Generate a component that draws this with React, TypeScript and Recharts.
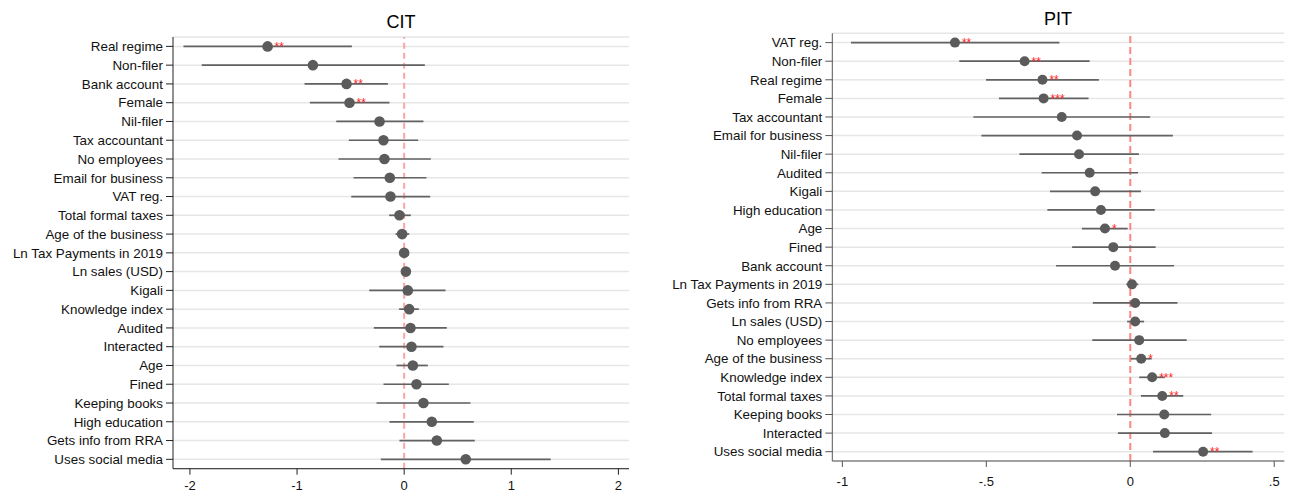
import {
  ScatterChart,
  Scatter,
  XAxis,
  YAxis,
  CartesianGrid,
  ReferenceLine,
  ErrorBar,
} from 'recharts';

const FONT = '"Liberation Sans", Arial, sans-serif';

// CIT coefficients (point estimate, 95% CI bounds, significance stars)
const citLabels = [
  'Real regime', 'Non-filer', 'Bank account', 'Female', 'Nil-filer', 'Tax accountant',
  'No employees', 'Email for business', 'VAT reg.', 'Total formal taxes', 'Age of the business',
  'Ln Tax Payments in 2019', 'Ln sales (USD)', 'Kigali', 'Knowledge index', 'Audited',
  'Interacted', 'Age', 'Fined', 'Keeping books', 'High education', 'Gets info from RRA',
  'Uses social media',
];
const citEst = [-1.275, -0.852, -0.538, -0.51, -0.23, -0.193, -0.184, -0.134, -0.128, -0.044, -0.019, 0.0, 0.016, 0.034, 0.047, 0.059, 0.068, 0.081, 0.115, 0.18, 0.258, 0.305, 0.575];
const citLo = [-2.06, -1.89, -0.93, -0.88, -0.634, -0.516, -0.613, -0.473, -0.494, -0.14, -0.081, -0.012, -0.006, -0.326, -0.047, -0.283, -0.233, -0.072, -0.193, -0.258, -0.137, -0.044, -0.218];
const citHi = [-0.488, 0.193, -0.152, -0.137, 0.18, 0.131, 0.249, 0.208, 0.243, 0.062, 0.047, 0.012, 0.036, 0.386, 0.137, 0.398, 0.367, 0.221, 0.417, 0.619, 0.65, 0.659, 1.368];
const citStars = ['**', '', '**', '**', '', '', '', '', '', '', '', '', '', '', '', '', '', '', '', '', '', '', ''];
const citTicks = [-2, -1, 0, 1, 2];
const citTickLabels = ['-2', '-1', '0', '1', '2'];

// PIT coefficients
const pitLabels = [
  'VAT reg.', 'Non-filer', 'Real regime', 'Female', 'Tax accountant', 'Email for business',
  'Nil-filer', 'Audited', 'Kigali', 'High education', 'Age', 'Fined', 'Bank account',
  'Ln Tax Payments in 2019', 'Gets info from RRA', 'Ln sales (USD)', 'No employees',
  'Age of the business', 'Knowledge index', 'Total formal taxes', 'Keeping books',
  'Interacted', 'Uses social media',
];
const pitEst = [-0.609, -0.367, -0.305, -0.301, -0.238, -0.185, -0.178, -0.141, -0.122, -0.102, -0.088, -0.059, -0.053, 0.006, 0.017, 0.017, 0.031, 0.038, 0.076, 0.111, 0.118, 0.12, 0.253];
const pitLo = [-0.97, -0.594, -0.501, -0.456, -0.545, -0.517, -0.385, -0.308, -0.279, -0.288, -0.168, -0.202, -0.258, -0.014, -0.13, -0.011, -0.132, 0.002, 0.031, 0.037, -0.046, -0.043, 0.079];
const pitHi = [-0.246, -0.141, -0.109, -0.145, 0.069, 0.148, 0.03, 0.027, 0.037, 0.085, -0.009, 0.088, 0.152, 0.028, 0.164, 0.048, 0.196, 0.074, 0.12, 0.184, 0.281, 0.284, 0.425];
const pitStars = ['**', '**', '**', '***', '', '', '', '', '', '', '*', '', '', '', '', '', '', '*', '***', '**', '', '', '**'];
const pitTicks = [-1, -0.5, 0, 0.5];
const pitTickLabels = ['-1', '-.5', '0', '.5'];

type PanelProps = {
  labels: string[];
  est: number[];
  lo: number[];
  hi: number[];
  stars: string[];
  ticks: number[];
  tickLabels: string[];
  domain: [number, number];
  width: number;
  margin: { top: number; right: number; bottom: number; left: number };
  yWidth: number;
  xHeight: number;
  xTickMargin: number;
  axisColor: string;
  refColor: string;
  refDash: string;
  dotR: number;
};

function Dot(props: any) {
  const { cx, cy, payload, r } = props;
  if (cx == null || cy == null) return null;
  return (
    <g>
      <circle cx={cx} cy={cy} r={r} fill="#5b5b5b" />
      {payload.stars ? (
        <text x={cx + 7} y={cy + 4.5} fontSize={12} fill="#ff2424" fontFamily={FONT}>
          {payload.stars}
        </text>
      ) : null}
    </g>
  );
}

function Panel(p: PanelProps) {
  const rows = p.labels.map((name, i) => ({
    name,
    pos: i + 1,
    est: p.est[i],
    err: [p.est[i] - p.lo[i], p.hi[i] - p.est[i]],
    stars: p.stars[i],
  }));
  const yTicks = rows.map((r) => r.pos);

  return (
    <ScatterChart width={p.width} height={496} margin={p.margin}>
      <CartesianGrid horizontal vertical={false} stroke="#e6e6e6" strokeWidth={1.5} />
      <XAxis
        type="number"
        dataKey="est"
        domain={p.domain}
        allowDataOverflow
        ticks={p.ticks}
        interval={0}
        tickFormatter={(v: number) => p.tickLabels[p.ticks.indexOf(v)] ?? String(v)}
        height={p.xHeight}
        tickSize={6}
        tickMargin={p.xTickMargin}
        stroke={p.axisColor}
        tick={{ fill: '#111', fontSize: 13, fontFamily: FONT }}
      />
      <YAxis
        type="number"
        dataKey="pos"
        domain={[0.5, p.labels.length + 0.5]}
        reversed
        allowDataOverflow
        ticks={yTicks}
        interval={0}
        tickFormatter={(v: number) => p.labels[v - 1] ?? ''}
        width={p.yWidth}
        tickSize={7}
        tickMargin={3}
        stroke={p.axisColor}
        tick={{ fill: '#111', fontSize: 13.4, fontFamily: FONT }}
      />
      <ReferenceLine x={0} stroke={p.refColor} strokeWidth={2} strokeDasharray={p.refDash} />
      <Scatter
        data={rows}
        isAnimationActive={false}
        shape={(props: any) => <Dot {...props} r={p.dotR} />}
      >
        <ErrorBar dataKey="err" direction="x" width={0} stroke="#626262" strokeWidth={1.7} />
      </Scatter>
    </ScatterChart>
  );
}

export default function App() {
  return (
    <div
      style={{
        position: 'absolute',
        left: 0,
        top: 0,
        width: 1293,
        height: 496,
        background: '#fff',
        fontFamily: FONT,
      }}
    >
      <div
        style={{
          position: 'absolute', left: 301, top: 13, width: 200, textAlign: 'center',
          fontSize: 18, lineHeight: '18px', color: '#000',
        }}
      >
        CIT
      </div>
      <div
        style={{
          position: 'absolute', left: 958, top: 10, width: 200, textAlign: 'center',
          fontSize: 18, lineHeight: '18px', color: '#000',
        }}
      >
        PIT
      </div>
      <div style={{ position: 'absolute', left: 0, top: 0 }}>
        <Panel
          labels={citLabels}
          est={citEst}
          lo={citLo}
          hi={citHi}
          stars={citStars}
          ticks={citTicks}
          tickLabels={citTickLabels}
          domain={[-2.158, 2.099]}
          width={640}
          margin={{ top: 37, right: 11, bottom: 0, left: 0 }}
          yWidth={173}
          xHeight={27.3}
          xTickMargin={6.5}
          axisColor="#222"
          refColor="#ffa3a3"
          refDash="6 4"
          dotR={5.3}
        />
      </div>
      <div style={{ position: 'absolute', left: 660, top: 0 }}>
        <Panel
          labels={pitLabels}
          est={pitEst}
          lo={pitLo}
          hi={pitHi}
          stars={pitStars}
          ticks={pitTicks}
          tickLabels={pitTickLabels}
          domain={[-1.035, 0.535]}
          width={633}
          margin={{ top: 33.3, right: 8.7, bottom: 0, left: 0 }}
          yWidth={172.3}
          xHeight={35}
          xTickMargin={9.5}
          axisColor="#555"
          refColor="#ff8585"
          refDash="7 4"
          dotR={5}
        />
      </div>
    </div>
  );
}
